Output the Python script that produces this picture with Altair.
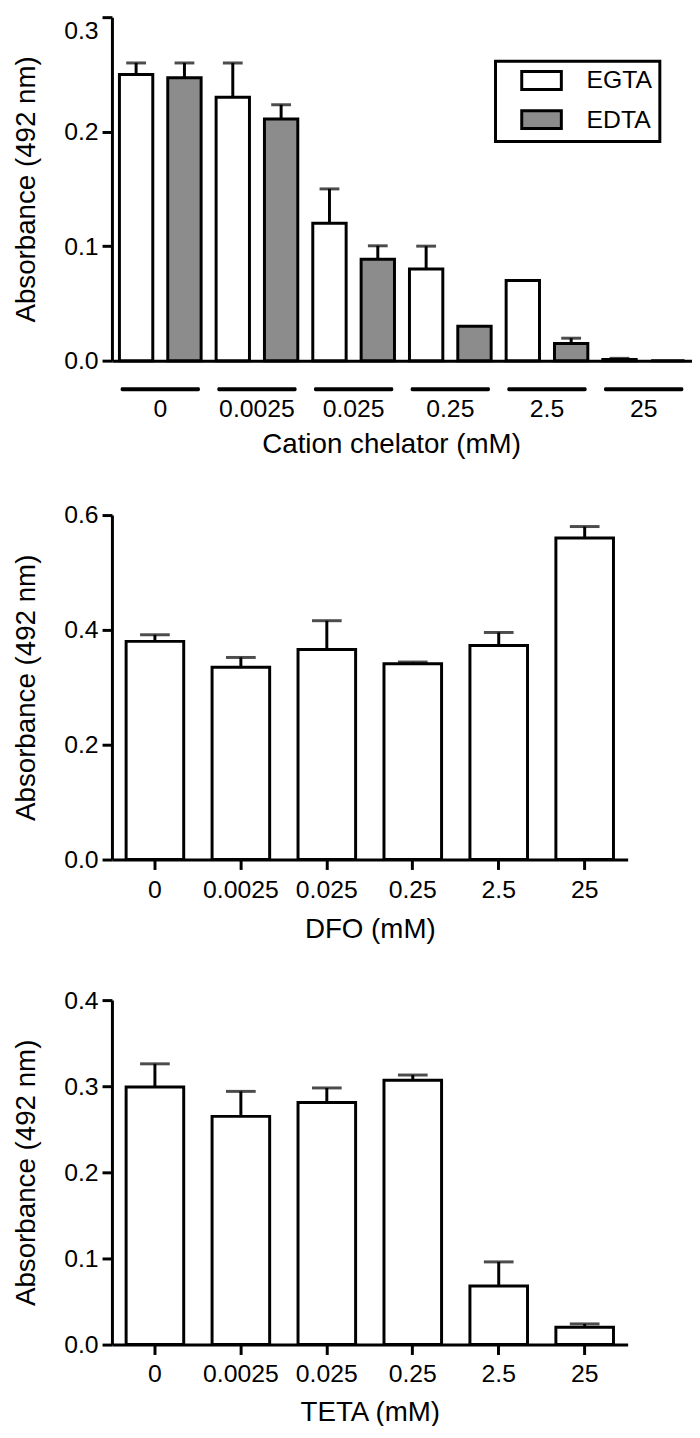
import altair as alt
import pandas as pd

# ---------------- data ----------------
conc = ["0", "0.0025", "0.025", "0.25", "2.5", "25"]
series = ["EGTA", "EDTA"]

egta_mean = [0.250, 0.230, 0.120, 0.080, 0.070, 0.001]
egta_err = [0.010, 0.030, 0.030, 0.020, 0.000, 0.001]
edta_mean = [0.247, 0.211, 0.0885, 0.030, 0.015, 0.000]
edta_err = [0.013, 0.0125, 0.0118, 0.000, 0.0046, 0.000]

dfo_mean = [0.380, 0.335, 0.366, 0.341, 0.373, 0.560]
dfo_err = [0.0115, 0.017, 0.050, 0.003, 0.0225, 0.020]

teta_mean = [0.299, 0.265, 0.281, 0.307, 0.068, 0.020]
teta_err = [0.027, 0.029, 0.017, 0.006, 0.028, 0.004]

y_ticks_top = [0.0, 0.1, 0.2, 0.3]
y_ticks_mid = [0.0, 0.2, 0.4, 0.6]
y_ticks_bot = [0.0, 0.1, 0.2, 0.3, 0.4]

FONT = "Liberation Sans, Arial, Helvetica, sans-serif"
YTITLE = "Absorbance (492 nm)"

# ---------------- tables ----------------
rows = []
for s, means, errs in (("EGTA", egta_mean, egta_err), ("EDTA", edta_mean, edta_err)):
    for c, m, e in zip(conc, means, errs):
        rows.append({"conc": c, "series": s, "mean": m, "err": e, "upper": m + e})
df_top = pd.DataFrame(rows)
df_groups = pd.DataFrame({"conc": conc})

def single_df(means, errs):
    return pd.DataFrame({"conc": conc, "mean": means, "err": errs,
                         "upper": [m + e for m, e in zip(means, errs)]})

df_mid = single_df(dfo_mean, dfo_err)
df_bot = single_df(teta_mean, teta_err)

# ---------------- top panel ----------------
TOP_W, TOP_PLOT_H, TOP_H = 586, 347, 361

x_top = alt.X("conc:N", sort=conc,
              scale=alt.Scale(paddingInner=0, paddingOuter=0),
              axis=alt.Axis(title="Cation chelator (mM)", labelAngle=0, ticks=False,
                            tickSize=0, offset=-(TOP_H - TOP_PLOT_H), labelPadding=36,
                            titlePadding=10, titleX=282))
xoff_top = alt.XOffset("series:N", sort=series,
                       scale=alt.Scale(paddingInner=0.31, paddingOuter=0.155))
y_top_scale = alt.Scale(domain=[0, 0.3], range=[TOP_PLOT_H, 0], nice=False)

base_top = alt.Chart(df_top).encode(x=x_top, xOffset=xoff_top)

bars_top = base_top.mark_bar(stroke="black", strokeWidth=3).encode(
    y=alt.Y("mean:Q", scale=y_top_scale,
            axis=alt.Axis(values=y_ticks_top, format=".1f", title=YTITLE,
                          labelOffset={"condition": {"test": "datum.value > 0.25", "value": 14},
                                       "value": 0})),
    fill=alt.Fill("series:N", sort=series,
                  scale=alt.Scale(domain=series, range=["white", "#8c8c8c"]),
                  legend=alt.Legend(title=None, orient="none", legendX=387.5, legendY=44.5,
                                    padding=7, strokeColor="black",
                                    symbolType="M-2,-0.9H2V0.9H-2Z", symbolSize=400,
                                    symbolOffset=27, labelOffset=33, rowPadding=8.5,
                                    labelExpr="datum.label + '\u00a0\u00a0\u00a0'",
                                    symbolStrokeColor="black", symbolStrokeWidth=3,
                                    labelFontSize=25, labelFont=FONT, labelColor="black")),
)
err_top = base_top.transform_filter("datum.err > 0")
rules_top = err_top.mark_rule(strokeWidth=3, color="black").encode(
    y=alt.Y("mean:Q", scale=y_top_scale), y2="upper:Q")
caps_top = err_top.mark_tick(size=20, thickness=3, color="black").encode(
    y=alt.Y("upper:Q", scale=y_top_scale))
underline = alt.Chart(df_groups).mark_bar(
    color="black", width=alt.RelativeBandSize(0.82), cornerRadius=1.5
).encode(x=alt.X("conc:N", sort=conc), y=alt.value(TOP_PLOT_H + 27),
         y2=alt.value(TOP_PLOT_H + 31))

top = alt.layer(rules_top, bars_top, caps_top, underline).properties(
    width=TOP_W, height=TOP_H)

# ---------------- single-series panels ----------------
def single_panel(df, xtitle, ymax, yticks, label_pad, title_pad):
    x = alt.X("conc:N", sort=conc,
              scale=alt.Scale(paddingInner=0.33, paddingOuter=0.165),
              axis=alt.Axis(title=xtitle, labelAngle=0, tickSize=10, tickWidth=3,
                            labelPadding=label_pad, titlePadding=title_pad))
    ys = alt.Scale(domain=[0, ymax], nice=False)
    base = alt.Chart(df).encode(x=x)
    bars = base.mark_bar(stroke="black", strokeWidth=3, fill="white").encode(
        y=alt.Y("mean:Q", scale=ys,
                axis=alt.Axis(values=yticks, format=".1f", title=YTITLE)))
    eb = base.transform_filter("datum.err > 0")
    rules = eb.mark_rule(strokeWidth=3, color="black").encode(
        y=alt.Y("mean:Q", scale=ys), y2="upper:Q")
    caps = eb.mark_tick(size=30, thickness=3, color="black").encode(
        y=alt.Y("upper:Q", scale=ys))
    return alt.layer(rules, bars, caps).properties(width=521, height=348)

mid = single_panel(df_mid, "DFO (mM)", 0.6, y_ticks_mid, 8, 14)
bot = single_panel(df_bot, "TETA (mM)", 0.4, y_ticks_bot, 7, 13)

chart = alt.vconcat(top, mid, bot, spacing=142, bounds="flush").properties(
    padding={"left": 5, "top": 0, "right": 0, "bottom": -8}
).configure_view(stroke=None).configure_axis(
    labelFont=FONT, titleFont=FONT, labelFontSize=25, titleFontSize=28,
    titleFontWeight="normal", labelColor="black", titleColor="black",
    domainColor="black", domainWidth=3, tickColor="black", tickWidth=3,
    tickSize=10, grid=False
).configure_axisY(labelPadding=4, titlePadding=23).configure_legend(
    strokeWidth=3
)

chart.save("out.html", embed_options={"renderer": "svg", "actions": False})
